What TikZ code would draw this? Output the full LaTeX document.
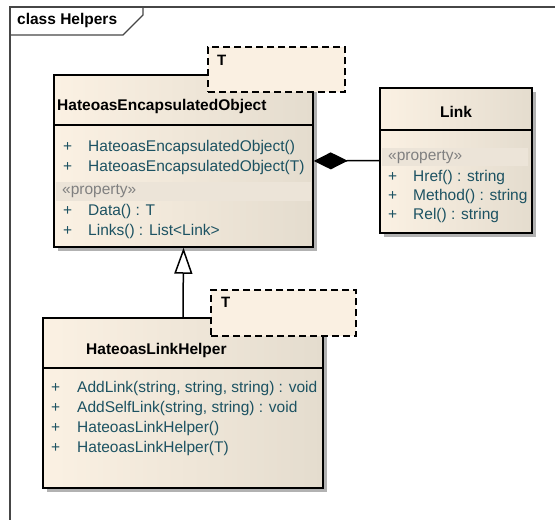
\documentclass[tikz,border=0pt]{standalone}
\usepackage{fontspec}
\setmainfont{Liberation Sans}
\usetikzlibrary{arrows.meta,shadows}
\definecolor{boxL}{RGB}{251,241,227}
\definecolor{boxR}{RGB}{228,220,206}
\definecolor{tmplfill}{RGB}{250,240,226}
\definecolor{bandfill}{RGB}{236,228,216}
\definecolor{optext}{RGB}{28,82,98}
\definecolor{proptext}{RGB}{128,128,128}
\definecolor{framecol}{RGB}{70,70,70}
\tikzset{
  classbox/.style={draw=black, line width=1.5pt, left color=boxL, right color=boxR,
    drop shadow={shadow xshift=4pt, shadow yshift=-4pt, fill=black!30, opacity=1},
    inner sep=0pt},
  tmplbox/.style={draw=black, line width=1.5pt, fill=tmplfill, dash pattern=on 7pt off 4pt, inner sep=0pt},
  sepline/.style={draw=black, line width=1.5pt},
  band/.style={fill=bandfill},
  cname/.style={anchor=west, inner sep=0pt, font=\bfseries\fontsize{15.5}{18}\selectfont},
  optxt/.style={anchor=west, inner sep=0pt, text=optext, font=\fontsize{15.5}{18}\selectfont},
  proptxt/.style={anchor=west, inner sep=0pt, text=proptext, font=\fontsize{15.5}{18}\selectfont},
  tparam/.style={anchor=west, inner sep=0pt, font=\bfseries\fontsize{15}{18}\selectfont},
  conn/.style={draw=black, line width=1.5pt},
}
\begin{document}
\begin{tikzpicture}[x=1pt,y=-1pt]
\useasboundingbox (0,0) rectangle (555,520);
\clip (0,0) rectangle (555,520);

% diagram frame with its name tab
\draw[framecol, line width=1.2pt] (10,530) -- (10,7) -- (560,7);
\draw[framecol, line width=1.2pt] (10,35) -- (123,35) -- (143,15) -- (143,7);
\node[anchor=west, inner sep=0pt, font=\bfseries\fontsize{15.5}{18}\selectfont] (title) at (17,20) {class Helpers};

% HateoasEncapsulatedObject
\node[classbox, minimum width=259pt, minimum height=172pt] (heo) at (183.5,161) {};
\draw[sepline] (54,125) -- (313,125);
\fill[band] (56,182) rectangle (311,201);
\node[cname] (heoname) at (57,106) {HateoasEncapsulatedObject};
\node[optxt] (heop1) at (63,147) {+};
\node[optxt] (heo1) at (88,147) {HateoasEncapsulatedObject()};
\node[optxt] (heop2) at (63,167) {+};
\node[optxt] (heo2) at (88,167) {HateoasEncapsulatedObject(T)};
\node[proptxt] (heoprop) at (62,191) {«property»};
\node[optxt] (heop3) at (63,211) {+};
\node[optxt] (heo3) at (88,211) {Data() : T};
\node[optxt] (heop4) at (63,231) {+};
\node[optxt] (heo4) at (88,231) {Links() : List<Link>};
\node[tmplbox, minimum width=137pt, minimum height=45pt] (heot) at (276.5,69.5) {};
\node[tparam] (heotp) at (217,60) {T};

% Link
\node[classbox, minimum width=152pt, minimum height=145pt] (link) at (456,160.5) {};
\draw[sepline] (380,130) -- (532,130);
\fill[band] (382,148) rectangle (528,166);
\node[cname, anchor=center] (linkname) at (456,112) {Link};
\node[proptxt] (linkprop) at (388,157) {«property»};
\node[optxt] (linkp1) at (388,177) {+};
\node[optxt] (link1) at (413,177) {Href() : string};
\node[optxt] (linkp2) at (388,196) {+};
\node[optxt] (link2) at (413,196) {Method() : string};
\node[optxt] (linkp3) at (388,215) {+};
\node[optxt] (link3) at (413,215) {Rel() : string};

% HateoasLinkHelper
\node[classbox, minimum width=280pt, minimum height=170pt] (hlh) at (183,403) {};
\draw[sepline] (43,368) -- (323,368);
\node[cname] (hlhname) at (86,350) {HateoasLinkHelper};
\node[optxt] (hlhp1) at (51,388) {+};
\node[optxt] (hlh1) at (77,388) {AddLink(string, string, string) : void};
\node[optxt] (hlhp2) at (51,408) {+};
\node[optxt] (hlh2) at (77,408) {AddSelfLink(string, string) : void};
\node[optxt] (hlhp3) at (51,428) {+};
\node[optxt] (hlh3) at (77,428) {HateoasLinkHelper()};
\node[optxt] (hlhp4) at (51,448) {+};
\node[optxt] (hlh4) at (77,448) {HateoasLinkHelper(T)};
\node[tmplbox, minimum width=145pt, minimum height=46pt] (hlht) at (283.5,313) {};
\node[tparam] (hlhtp) at (221,302) {T};

% composition and generalization
\draw[conn, {Diamond[length=34pt, width=17pt, fill=black]}-] (heo.east) -- (link.west);
\draw[conn, -{Triangle[open, length=26pt, width=18pt, fill=white]}] (hlh.north) -- (heo.south);
\end{tikzpicture}
\end{document}
